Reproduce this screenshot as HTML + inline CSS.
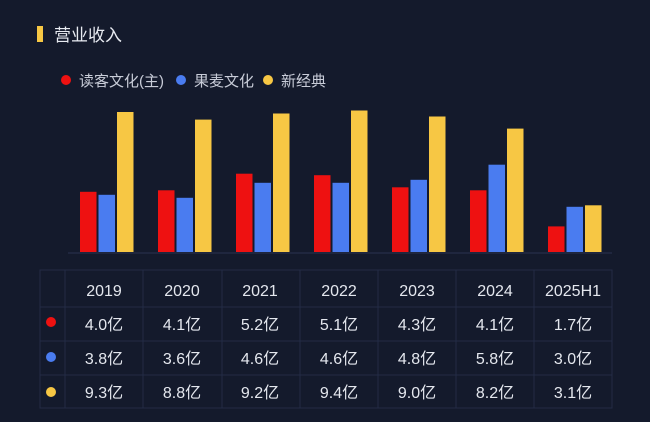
<!DOCTYPE html><html><head><meta charset="utf-8"><style>
body{margin:0;background:#141a2c;}
svg{display:block;font-family:"Liberation Sans","Noto Sans CJK SC",sans-serif;}
</style></head><body>
<svg width="650" height="422" viewBox="0 0 650 422">
<rect width="650" height="422" fill="#141a2c"/>
<rect x="37" y="26" width="6" height="16" fill="#f7c744"/>
<text x="54" y="41" font-size="17" fill="#e8ebf2">营业收入</text>
<circle cx="66" cy="80" r="5" fill="#ee1111"/>
<text x="79" y="86" font-size="15" fill="#c8ccd8">读客文化(主)</text>
<circle cx="181" cy="80" r="5" fill="#4a7cf0"/>
<text x="194" y="86" font-size="15" fill="#c8ccd8">果麦文化</text>
<circle cx="268" cy="80" r="5" fill="#f7c744"/>
<text x="281" y="86" font-size="15" fill="#c8ccd8">新经典</text>
<line x1="68" y1="253" x2="612" y2="253" stroke="#2a3350" stroke-width="1"/>
<g fill="#ee1111">
<rect x="80" y="191.8" width="16.5" height="60.2"/>
<rect x="158" y="190.3" width="16.5" height="61.7"/>
<rect x="236" y="173.7" width="16.5" height="78.3"/>
<rect x="314" y="175.2" width="16.5" height="76.8"/>
<rect x="392" y="187.3" width="16.5" height="64.7"/>
<rect x="470" y="190.3" width="16.5" height="61.7"/>
<rect x="548" y="226.4" width="16.5" height="25.6"/>
</g>
<g fill="#4a7cf0">
<rect x="98.5" y="194.8" width="16.5" height="57.2"/>
<rect x="176.5" y="197.8" width="16.5" height="54.2"/>
<rect x="254.5" y="182.8" width="16.5" height="69.2"/>
<rect x="332.5" y="182.8" width="16.5" height="69.2"/>
<rect x="410.5" y="179.8" width="16.5" height="72.2"/>
<rect x="488.5" y="164.7" width="16.5" height="87.3"/>
<rect x="566.5" y="206.8" width="16.5" height="45.2"/>
</g>
<g fill="#f7c744">
<rect x="117" y="112" width="16.5" height="140"/>
<rect x="195" y="119.6" width="16.5" height="132.4"/>
<rect x="273" y="113.5" width="16.5" height="138.5"/>
<rect x="351" y="110.5" width="16.5" height="141.5"/>
<rect x="429" y="116.5" width="16.5" height="135.5"/>
<rect x="507" y="128.6" width="16.5" height="123.4"/>
<rect x="585" y="205.3" width="16.5" height="46.7"/>
</g>
<g stroke="#232b45" stroke-width="1" fill="none">
<rect x="40" y="270" width="572" height="138"/>
<line x1="40" y1="307" x2="612" y2="307"/><line x1="40" y1="341" x2="612" y2="341"/><line x1="40" y1="375" x2="612" y2="375"/>
<line x1="65" y1="270" x2="65" y2="408"/><line x1="143" y1="270" x2="143" y2="408"/><line x1="222" y1="270" x2="222" y2="408"/><line x1="300" y1="270" x2="300" y2="408"/><line x1="378" y1="270" x2="378" y2="408"/><line x1="456" y1="270" x2="456" y2="408"/><line x1="534" y1="270" x2="534" y2="408"/>
</g>
<circle cx="51" cy="322" r="5" fill="#ee1111"/>
<circle cx="51" cy="357" r="5" fill="#4a7cf0"/>
<circle cx="51" cy="392" r="5" fill="#f7c744"/>
<g font-size="16" fill="#e4e7ee" text-anchor="middle">
<text x="104" y="296">2019</text><text x="182" y="296">2020</text><text x="260" y="296">2021</text><text x="339" y="296">2022</text><text x="417" y="296">2023</text><text x="495" y="296">2024</text><text x="573" y="296">2025H1</text>
<text x="104" y="330">4.0亿</text><text x="182" y="330">4.1亿</text><text x="260" y="330">5.2亿</text><text x="339" y="330">5.1亿</text><text x="417" y="330">4.3亿</text><text x="495" y="330">4.1亿</text><text x="573" y="330">1.7亿</text>
<text x="104" y="364">3.8亿</text><text x="182" y="364">3.6亿</text><text x="260" y="364">4.6亿</text><text x="339" y="364">4.6亿</text><text x="417" y="364">4.8亿</text><text x="495" y="364">5.8亿</text><text x="573" y="364">3.0亿</text>
<text x="104" y="398">9.3亿</text><text x="182" y="398">8.8亿</text><text x="260" y="398">9.2亿</text><text x="339" y="398">9.4亿</text><text x="417" y="398">9.0亿</text><text x="495" y="398">8.2亿</text><text x="573" y="398">3.1亿</text>
</g>
</svg></body></html>
